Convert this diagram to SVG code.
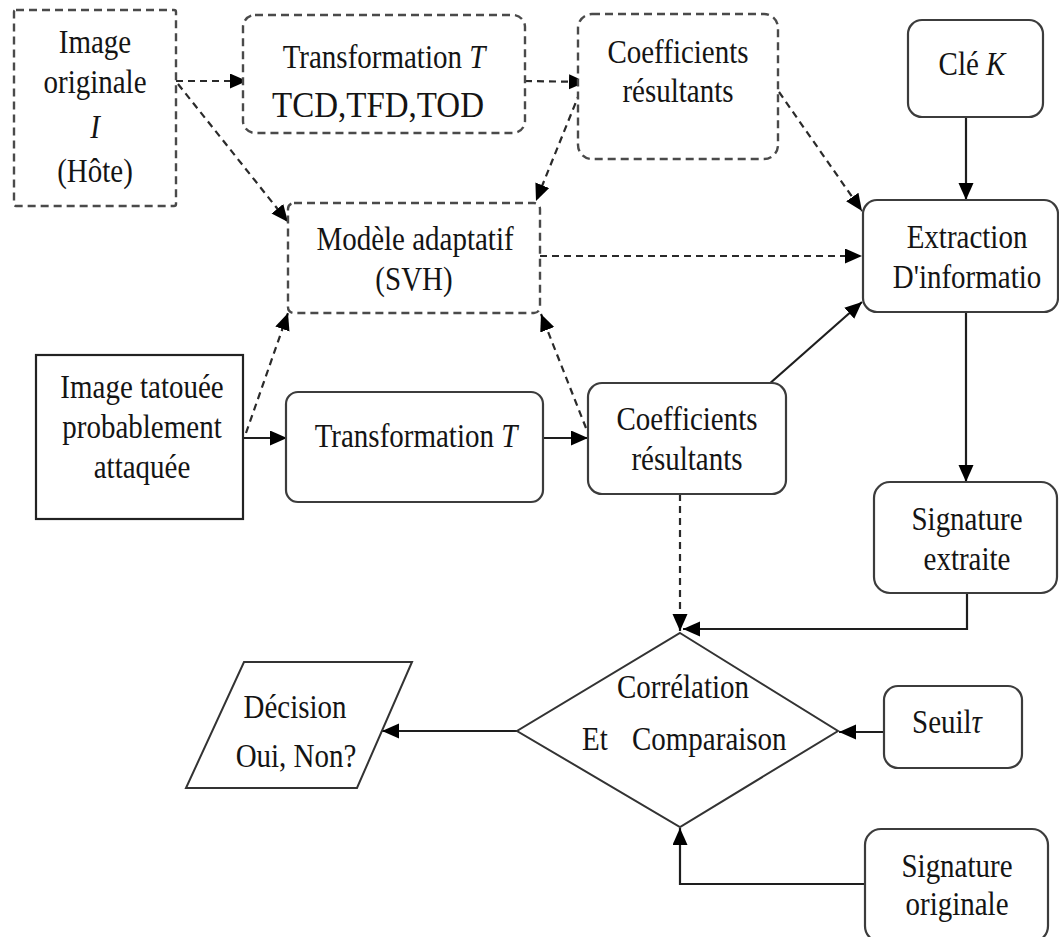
<svg xmlns="http://www.w3.org/2000/svg" width="1059" height="937" viewBox="0 0 1059 937">
  <style>
    .box { fill: #ffffff; stroke: #3c3c3c; stroke-width: 2.2; }
    .dbox { fill: #ffffff; stroke: #4a4a4a; stroke-width: 2.4; stroke-dasharray: 8 5; }
    .sq { fill: #ffffff; stroke: #222222; stroke-width: 2.2; }
    .t { font-family: "Liberation Serif", "DejaVu Serif", serif; font-size: 29px; fill: #141414; text-anchor: middle; }
    .big { font-size: 33px; }
    .it { font-style: italic; }
    .solid { fill: none; stroke: #1e1e1e; stroke-width: 2.2; marker-end: url(#ah); }
    .dash { fill: none; stroke: #2a2a2a; stroke-width: 2.2; stroke-dasharray: 7 5; marker-end: url(#ah); }
    .plain { fill: none; stroke: #333333; stroke-width: 2; }
  </style>
  <defs>
    <marker id="ah" markerUnits="userSpaceOnUse" markerWidth="18" markerHeight="16" refX="17" refY="7.5" orient="auto">
      <path d="M0,0 L17,7.5 L0,15 z" fill="#000000"/>
    </marker>
  </defs>

  <rect width="1059" height="937" fill="#ffffff"/>

  <!-- connectors -->
  <g id="connectors">
    <line class="dash" x1="176" y1="81" x2="247" y2="81"/>
    <line class="dash" x1="178" y1="84" x2="288" y2="222"/>
    <line class="dash" x1="525" y1="81" x2="586" y2="82"/>
    <line class="dash" x1="580" y1="92" x2="536" y2="201"/>
    <line class="dash" x1="779" y1="92" x2="862" y2="211"/>
    <line class="dash" x1="540" y1="256" x2="862" y2="256"/>
    <line class="dash" x1="246" y1="433" x2="288" y2="313"/>
    <line class="dash" x1="586" y1="428" x2="541" y2="314"/>
    <line class="dash" x1="680" y1="494" x2="680" y2="631"/>

    <line class="solid" x1="966" y1="117" x2="966" y2="200"/>
    <line class="solid" x1="966" y1="312" x2="966" y2="482"/>
    <line class="solid" x1="244" y1="438" x2="287" y2="438"/>
    <line class="solid" x1="543" y1="438" x2="588" y2="438"/>
    <line class="solid" x1="768" y1="385" x2="862" y2="302"/>
    <polyline class="solid" points="967,593 967,629 683,629"/>
    <line class="solid" x1="884" y1="732" x2="839" y2="732"/>
    <polyline class="solid" points="865,884 680,884 680,828"/>
    <line class="solid" x1="517" y1="731" x2="382" y2="731"/>
  </g>

  <!-- nodes -->
  <g id="image-originale">
    <rect class="dbox" x="14" y="10" width="162" height="196" rx="2"/>
    <text class="t" transform="translate(95,53) scale(1,1.18)">Image</text>
    <text class="t" transform="translate(95,93) scale(1,1.18)">originale</text>
    <text class="t it" transform="translate(95,138) scale(1,1.18)">I</text>
    <text class="t" transform="translate(95,182) scale(1,1.18)">(Hôte)</text>
  </g>

  <g id="transformation-haut">
    <rect class="dbox" x="243" y="15" width="282" height="118" rx="12"/>
    <text class="t" transform="translate(384,68) scale(1,1.18)">Transformation <tspan class="it">T</tspan></text>
    <text class="t big" transform="translate(378,117) scale(1,1.1)">TCD,TFD,TOD</text>
  </g>

  <g id="coefficients-haut">
    <rect class="dbox" x="578" y="14" width="200" height="145" rx="14"/>
    <text class="t" transform="translate(678,63) scale(1,1.18)">Coefficients</text>
    <text class="t" transform="translate(678,102) scale(1,1.18)">résultants</text>
  </g>

  <g id="cle">
    <rect class="box" x="908" y="20" width="135" height="97" rx="14"/>
    <text class="t" transform="translate(972,75) scale(1,1.18)">Clé <tspan class="it">K</tspan></text>
  </g>

  <g id="extraction">
    <rect class="box" x="863" y="200" width="195" height="112" rx="14"/>
    <text class="t" transform="translate(967,248) scale(1,1.18)">Extraction</text>
    <text class="t" transform="translate(967,288) scale(1,1.18)">D'informatio</text>
  </g>

  <g id="modele">
    <rect class="dbox" x="288" y="203" width="252" height="110" rx="6"/>
    <text class="t" transform="translate(415,250) scale(1,1.18)">Modèle adaptatif</text>
    <text class="t" transform="translate(414,290) scale(1,1.18)">(SVH)</text>
  </g>

  <g id="image-tatouee">
    <rect class="sq" x="36" y="355" width="207" height="164"/>
    <text class="t" transform="translate(142,398) scale(1,1.18)">Image tatouée</text>
    <text class="t" transform="translate(142,438) scale(1,1.18)">probablement</text>
    <text class="t" transform="translate(142,478) scale(1,1.18)">attaquée</text>
  </g>

  <g id="transformation-bas">
    <rect class="box" x="286" y="392" width="257" height="110" rx="12"/>
    <text class="t" transform="translate(416,447) scale(1,1.18)">Transformation <tspan class="it">T</tspan></text>
  </g>

  <g id="coefficients-bas">
    <rect class="box" x="588" y="383" width="198" height="111" rx="14"/>
    <text class="t" transform="translate(687,430) scale(1,1.18)">Coefficients</text>
    <text class="t" transform="translate(687,470) scale(1,1.18)">résultants</text>
  </g>

  <g id="signature-extraite">
    <rect class="box" x="874" y="482" width="183" height="111" rx="16"/>
    <text class="t" transform="translate(967,530) scale(1,1.18)">Signature</text>
    <text class="t" transform="translate(967,570) scale(1,1.18)">extraite</text>
  </g>

  <g id="correlation">
    <polygon class="plain" points="680,633 838,731 680,827 517,731" fill="#ffffff"/>
    <text class="t" transform="translate(683,698) scale(1,1.18)">Corrélation</text>
    <text class="t" style="text-anchor:start" transform="translate(582,750) scale(1,1.18)">Et</text>
    <text class="t" style="text-anchor:start" transform="translate(632,750) scale(1,1.18)">Comparaison</text>
  </g>

  <g id="seuil">
    <rect class="box" x="884" y="686" width="138" height="82" rx="14"/>
    <text class="t" transform="translate(947,733) scale(1,1.18)">Seuil<tspan class="it">τ</tspan></text>
  </g>

  <g id="signature-originale">
    <rect class="box" x="865" y="829" width="183" height="113" rx="16"/>
    <text class="t" transform="translate(957,877) scale(1,1.18)">Signature</text>
    <text class="t" transform="translate(957,915) scale(1,1.18)">originale</text>
  </g>

  <g id="decision">
    <polygon class="plain" points="244,662 412,662 357,788 186,788" fill="#ffffff"/>
    <text class="t" transform="translate(295,718) scale(1,1.18)">Décision</text>
    <text class="t" transform="translate(296,767) scale(1,1.18)">Oui, Non?</text>
  </g>
</svg>
